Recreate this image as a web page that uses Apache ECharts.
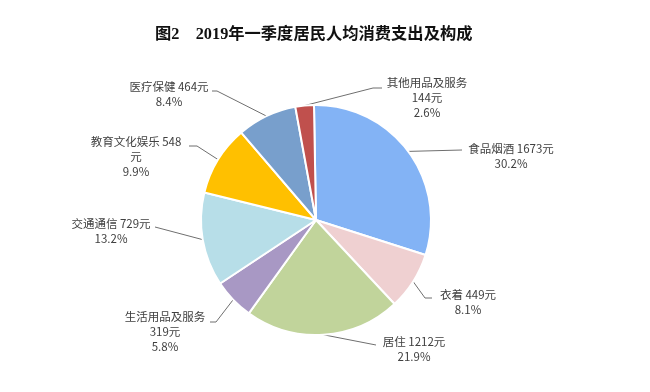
<!DOCTYPE html>
<html>
<head>
<meta charset="utf-8">
<script src="https://cdn.jsdelivr.net/npm/echarts@6/dist/echarts.min.js"></script>
<style>html,body{margin:0;padding:0;background:#fff;}#c{width:650px;height:392px;}</style>
</head>
<body>
<div id="c"></div>
<script>
// ---- data ----
var titleText = '图2    2019年一季度居民人均消费支出及构成';
var categories = ['食品烟酒', '衣着', '居住', '生活用品及服务', '交通通信', '教育文化娱乐', '医疗保健', '其他用品及服务'];
var values = [1673, 449, 1212, 319, 729, 548, 464, 144];
var unit = '元';
// separator between name and value, and between value and unit
var nameSep = [' ', ' ', ' ', '\n', ' ', ' ', ' ', '\n'];
var unitSep = ['', '', '', '', '', '\n', '', ''];

// ---- style ----
var colors = ['#83B3F5', '#EFD0D1', '#C1D49B', '#A898C4', '#B7DEE8', '#FFC000', '#789FCC', '#C0504D'];
// label block centre and leader-line elbow / end
var labelPos = [
  {c: [511, 156], e: [462, 150], f: [462, 150]},
  {c: [468, 302], e: [425, 298], f: [432, 298]},
  {c: [414, 349], e: [376, 345], f: [376, 345]},
  {c: [165, 332], e: [216, 322], f: [210, 322]},
  {c: [111, 231], e: [155, 227], f: [155, 227]},
  {c: [136, 157], e: [197, 146], f: [189, 146]},
  {c: [169, 94],  e: [217, 91],  f: [212, 91]},
  {c: [427, 98],  e: [373, 88],  f: [382, 88]}
];

var total = values.reduce(function (a, b) { return a + b; }, 0);
var chart = echarts.init(document.getElementById('c'), null, {renderer: 'canvas'});
var data = categories.map(function (n, i) {
  return {name: n, value: values[i], itemStyle: {color: colors[i]}};
});
chart.setOption({
  animation: false,
  title: {
    text: titleText,
    left: 150,
    top: 22,
    textStyle: {
      fontFamily: "'Liberation Serif', 'Noto Sans CJK SC', serif",
      fontWeight: 'bold',
      fontSize: 16.3,
      color: '#111'
    }
  },
  series: [{
    type: 'pie',
    center: [316, 220],
    radius: [0, 115],
    startAngle: 91,
    clockwise: true,
    data: data,
    itemStyle: {borderColor: '#fff', borderWidth: 2},
    label: {
      show: true,
      position: 'outside',
      fontFamily: "'Noto Sans CJK SC', sans-serif",
      fontSize: 11.5,
      lineHeight: 15,
      color: '#404040',
      align: 'center',
      formatter: function (p) {
        var i = p.dataIndex;
        var pct = (values[i] / total * 100).toFixed(1);
        return p.name + nameSep[i] + p.value + unitSep[i] + unit + '\n' + pct + '%';
      }
    },
    labelLine: {show: true, lineStyle: {color: '#6f6f6f', width: 1}},
    labelLayout: function (params) {
      var lp = labelPos[params.dataIndex];
      var p0 = params.labelLinePoints ? params.labelLinePoints[0] : lp.e;
      return {
        x: lp.c[0],
        y: lp.c[1],
        align: 'center',
        verticalAlign: 'middle',
        labelLinePoints: [p0, lp.e, lp.f]
      };
    }
  }]
});
</script>
</body>
</html>
